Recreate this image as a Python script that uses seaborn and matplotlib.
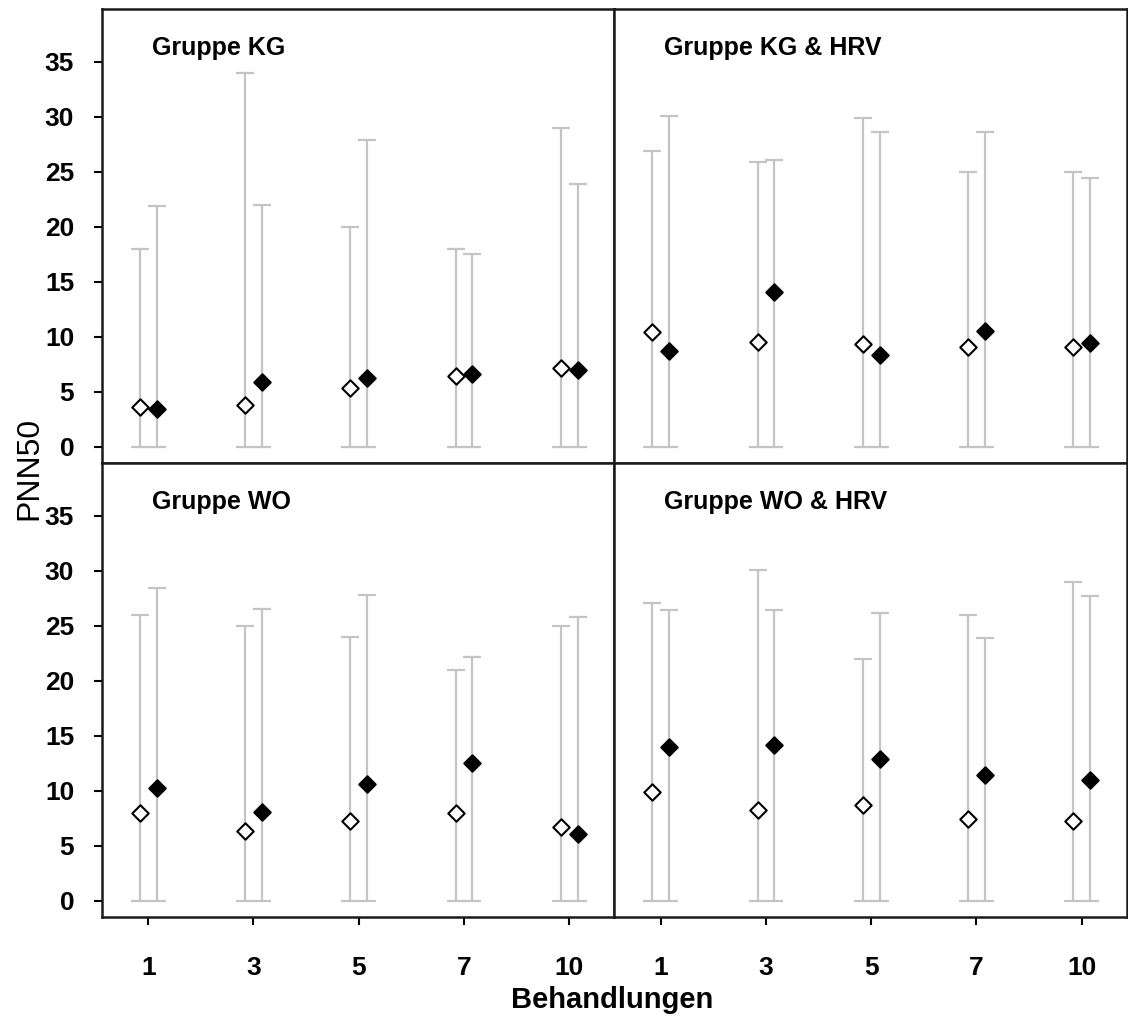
import matplotlib
matplotlib.use("Agg")
import matplotlib.pyplot as plt
import numpy as np
import pandas as pd
import seaborn as sns

# Data
sessions = ["1", "3", "5", "7", "10"]
panels = ["Gruppe KG", "Gruppe KG & HRV", "Gruppe WO", "Gruppe WO & HRV"]

kg_open_mean = [3.6, 3.8, 5.3, 6.45, 7.2]
kg_open_upper = [18.0, 34.0, 20.0, 18.0, 29.0]
kg_fill_mean = [3.4, 5.9, 6.2, 6.6, 7.0]
kg_fill_upper = [21.9, 22.0, 27.9, 17.5, 23.9]

kghrv_open_mean = [10.4, 9.5, 9.3, 9.1, 9.05]
kghrv_open_upper = [26.9, 25.9, 29.9, 25.0, 25.0]
kghrv_fill_mean = [8.7, 14.1, 8.3, 10.5, 9.45]
kghrv_fill_upper = [30.1, 26.1, 28.6, 28.6, 24.4]

wo_open_mean = [8.0, 6.3, 7.2, 8.0, 6.7]
wo_open_upper = [26.0, 25.0, 24.0, 21.0, 25.0]
wo_fill_mean = [10.2, 8.1, 10.6, 12.5, 6.1]
wo_fill_upper = [28.4, 26.5, 27.8, 22.2, 25.8]

wohrv_open_mean = [9.9, 8.2, 8.7, 7.4, 7.2]
wohrv_open_upper = [27.1, 30.1, 22.0, 26.0, 29.0]
wohrv_fill_mean = [14.0, 14.2, 12.9, 11.4, 11.0]
wohrv_fill_upper = [26.4, 26.4, 26.2, 23.9, 27.7]

panel_data = {
    "Gruppe KG": (kg_open_mean, kg_open_upper, kg_fill_mean, kg_fill_upper),
    "Gruppe KG & HRV": (kghrv_open_mean, kghrv_open_upper, kghrv_fill_mean, kghrv_fill_upper),
    "Gruppe WO": (wo_open_mean, wo_open_upper, wo_fill_mean, wo_fill_upper),
    "Gruppe WO & HRV": (wohrv_open_mean, wohrv_open_upper, wohrv_fill_mean, wohrv_fill_upper),
}

rows = []
for panel, (om, ou, fm, fu) in panel_data.items():
    for i, s in enumerate(sessions):
        rows.append(dict(panel=panel, session=s, idx=i, kind="open", mean=om[i], upper=ou[i]))
        rows.append(dict(panel=panel, session=s, idx=i, kind="filled", mean=fm[i], upper=fu[i]))
df = pd.DataFrame(rows)

sns.set_theme(style="white")
plt.rcParams["font.family"] = ["Liberation Sans Narrow", "Liberation Sans", "DejaVu Sans"]
plt.rcParams["text.color"] = "black"

fig, axes = plt.subplots(2, 2, figsize=(11.28, 10.19), dpi=100, sharex=True, sharey=True)
fig.subplots_adjust(left=0.0904, right=0.999, top=0.991, bottom=0.100, wspace=0, hspace=0)

offsets = {"open": -0.08, "filled": 0.08}
bar_color = "#c4c4c4"

for ax, panel in zip(axes.flat, panels):
    sub = df[df["panel"] == panel]
    for kind in ["open", "filled"]:
        d = sub[sub["kind"] == kind]
        x = d["idx"].to_numpy() + offsets[kind]
        mean = d["mean"].to_numpy()
        upper = d["upper"].to_numpy()
        # grey bars run from 0 up to the upper value
        ax.errorbar(x, mean, yerr=[mean, upper - mean], fmt="none",
                    ecolor=bar_color, elinewidth=1.6, capsize=6.2, capthick=1.6, zorder=1)
    for kind, face in [("open", "white"), ("filled", "black")]:
        d = sub[sub["kind"] == kind].copy()
        d["xpos"] = d["idx"] + offsets[kind]
        sns.scatterplot(data=d, x="xpos", y="mean", marker="D", s=70,
                        color=face, edgecolor="black", linewidth=1.5, ax=ax, zorder=3, legend=False)
    ax.text(0.097, 0.914, panel, transform=ax.transAxes, fontsize=18, fontweight="bold",
            va="center", ha="left", color="black")
    ax.set_xlabel("")
    ax.set_ylabel("")
    for sp in ax.spines.values():
        sp.set_color("#1a1a1a")
        sp.set_linewidth(1.8)
    ax.tick_params(axis="both", direction="out", length=6, width=1.5, color="black",
                   labelsize=19, labelcolor="black")
    ax.tick_params(axis="x", pad=22, bottom=True)
    ax.tick_params(axis="y", pad=14, left=True)

for ax in axes[:, 1]:
    ax.tick_params(axis="y", left=False)

ax0 = axes[0, 0]
ax0.set_ylim(-1.5, 39.8)
ax0.set_yticks([0, 5, 10, 15, 20, 25, 30, 35])
ax0.set_xlim(-0.44, 4.43)
ax0.set_xticks(range(len(sessions)))
ax0.set_xticklabels(sessions)
for ax in axes.flat:
    for lab in ax.get_xticklabels() + ax.get_yticklabels():
        lab.set_fontweight("bold")

fig.text(0.026, 0.54, "PNN50", rotation=90, fontsize=23, va="center", ha="center",
         color="black", family=["Liberation Sans", "DejaVu Sans"])
fig.text(0.543, 0.019, "Behandlungen", fontsize=21, fontweight="bold", va="center",
         ha="center", color="black")

fig.savefig("out.png", dpi=100)
